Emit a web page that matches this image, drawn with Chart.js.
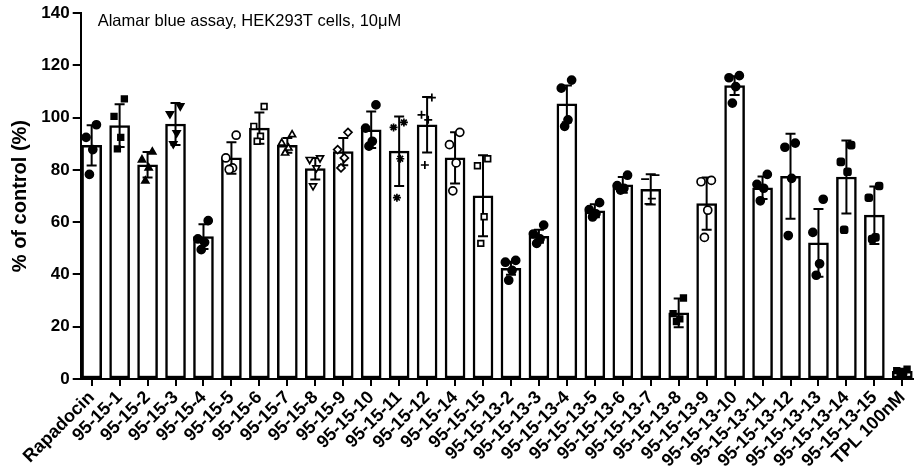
<!DOCTYPE html>
<html>
<head>
<meta charset="utf-8">
<title>Alamar blue assay</title>
<script src="https://cdn.jsdelivr.net/npm/chart.js@4.4.1/dist/chart.umd.min.js"></script>
<style>
  html, body { margin: 0; padding: 0; background: #fff; overflow: hidden; }
  #wrap { width: 922px; height: 467px; }
</style>
</head>
<body>
<div id="wrap"><canvas id="chart"></canvas></div>
<script>
// compounds on the x axis
const labels = [
  "Rapadocin", "95-15-1", "95-15-2", "95-15-3", "95-15-4", "95-15-5", "95-15-6",
  "95-15-7", "95-15-8", "95-15-9", "95-15-10", "95-15-11", "95-15-12", "95-15-14",
  "95-15-15", "95-15-13-2", "95-15-13-3", "95-15-13-4", "95-15-13-5", "95-15-13-6",
  "95-15-13-7", "95-15-13-8", "95-15-13-9", "95-15-13-10", "95-15-13-11",
  "95-15-13-12", "95-15-13-13", "95-15-13-14", "95-15-13-15", "TPL 100nM"
];

// bar heights (mean % of control) and SD
const means = [
  89.4, 97.0, 82.0, 97.6, 54.5, 84.6, 96.0, 89.4, 80.5, 87.0,
  95.4, 87.2, 97.3, 84.6, 70.1, 42.4, 54.6, 105.3, 64.4, 74.3,
  72.6, 25.3, 67.1, 112.3, 73.2, 77.6, 52.1, 77.3, 62.7, 2.9
];
const sds = [
  7.7, 8.2, 4.9, 8.0, 4.7, 6.0, 6.0, 2.8, 4.1, 5.2,
  7.0, 13.3, 10.6, 9.8, 15.5, 2.5, 2.5, 7.0, 2.5, 3.0,
  5.8, 5.5, 10.0, 3.6, 4.3, 16.3, 13.0, 14.0, 11.0, 1.0
];

// individual replicates
const replicates = [
  [97.3, 92.5, 87.8, 78.3],
  [107.2, 100.5, 92.5, 88.1],
  [86.9, 83.9, 80.8, 75.8],
  [104.5, 101.5, 94.2, 90.0],
  [60.6, 53.6, 52.3, 49.5],
  [93.3, 84.6, 80.8, 80.2],
  [104.3, 96.7, 92.9, 91.0],
  [93.5, 90.3, 88.4, 86.5],
  [84.6, 84.0, 80.8, 73.9],
  [94.4, 87.8, 84.6, 80.8],
  [104.9, 96.0, 91.0, 89.1],
  [98.2, 96.3, 84.3, 69.4],
  [107.7, 101.1, 99.2, 81.9],
  [94.4, 89.7, 82.7, 72.0],
  [84.3, 81.6, 62.1, 51.9],
  [45.4, 44.7, 41.6, 37.8],
  [58.9, 55.5, 53.6, 51.9],
  [114.4, 111.3, 99.2, 96.7],
  [67.5, 64.8, 63.2, 62.0],
  [78.0, 74.0, 73.0, 72.3],
  [78.0, 76.5, 69.0, 67.0],
  [31.0, 25.0, 23.0, 22.0],
  [76.0, 75.5, 64.6, 54.2],
  [116.1, 115.3, 111.9, 105.6],
  [78.3, 74.5, 73.0, 68.2],
  [90.3, 88.7, 76.8, 54.9],
  [68.8, 56.1, 44.1, 39.7],
  [89.5, 83.1, 79.3, 57.1],
  [73.9, 69.4, 54.2, 53.6],
  [3.8, 3.2, 2.6, 2.0]
];

const yTicks = [0, 20, 40, 60, 80, 100, 120, 140];
const note = "Alamar blue assay, HEK293T cells, 10\u03bcM";

// marker per group: [pointStyle, filled, rotation]
const markers = [
  ["circle", 1, 0], ["rect", 1, 0], ["triangle", 1, 0], ["triangle", 1, 180],
  ["circle", 1, 0], ["circle", 0, 0], ["rect", 0, 0], ["triangle", 0, 0],
  ["triangle", 0, 180], ["rectRot", 0, 0], ["circle", 1, 0], ["star", 0, 0],
  ["cross", 0, 0], ["circle", 0, 0], ["rect", 0, 0], ["circle", 1, 0],
  ["circle", 1, 0], ["circle", 1, 0], ["circle", 1, 0], ["circle", 1, 0],
  ["line", 0, 0], ["rect", 1, 0], ["circle", 0, 0], ["circle", 1, 0],
  ["circle", 1, 0], ["circle", 1, 0], ["circle", 1, 0], ["rectRounded", 1, 0],
  ["rectRounded", 1, 0], ["rect", 1, 0]
];
const jitter = [0.17, -0.2, 0.04, -0.08];

const pts = [], pStyle = [], pFill = [], pRot = [];
replicates.forEach((vals, i) => {
  vals.forEach((v, j) => {
    pts.push({ x: i + jitter[j], y: v });
    pStyle.push(markers[i][0]);
    pFill.push(markers[i][1] ? "#000" : "#fff");
    pRot.push(markers[i][2]);
  });
});

const FONT = "'Liberation Sans', Arial, sans-serif";

const errorBars = {
  id: "errorBars",
  afterDatasetDraw(chart, args) {
    if (args.index !== 0) return;
    const ctx = chart.ctx;
    const y = chart.scales.y;
    ctx.save();
    ctx.strokeStyle = "#000";
    ctx.lineWidth = 2;
    chart.getDatasetMeta(0).data.forEach((bar, i) => {
      const top = y.getPixelForValue(means[i] + sds[i]);
      const bot = y.getPixelForValue(Math.max(0, means[i] - sds[i]));
      ctx.beginPath();
      ctx.moveTo(bar.x, top); ctx.lineTo(bar.x, bot);
      ctx.moveTo(bar.x - 5, top); ctx.lineTo(bar.x + 5, top);
      ctx.moveTo(bar.x - 5, bot); ctx.lineTo(bar.x + 5, bot);
      ctx.stroke();
    });
    ctx.restore();
  },
  afterDraw(chart) {
    const ctx = chart.ctx;
    const a = chart.chartArea;
    ctx.save();
    ctx.fillStyle = "#000";
    ctx.font = "16.5px " + FONT;
    ctx.textBaseline = "top";
    ctx.fillText(note, a.left + 17, a.top + 0);
    ctx.restore();
  }
};

new Chart(document.getElementById("chart"), {
  type: "bar",
  data: {
    datasets: [{
      type: "bar",
      data: means.map((m, i) => ({ x: i, y: m })),
      backgroundColor: "#fff",
      borderColor: "#000",
      borderWidth: 2.5,
      borderSkipped: false,
      barThickness: 20,
      order: 2
    }, {
      type: "scatter",
      data: pts,
      pointStyle: pStyle,
      backgroundColor: pFill,
      borderColor: "#000",
      borderWidth: 1.7,
      rotation: pRot,
      pointRadius: 4,
      order: 1
    }]
  },
  options: {
    responsive: true,
    maintainAspectRatio: false,
    animation: false,
    layout: { padding: { top: 13, right: 2, left: 0, bottom: 0 } },
    plugins: { legend: { display: false }, tooltip: { enabled: false } },
    scales: {
      x: {
        type: "linear",
        min: -0.392,
        max: 29.5,
        offset: false,
        grid: { offset: false, drawOnChartArea: false, drawTicks: true, tickLength: 7, color: "#000", lineWidth: 2 },
        border: { display: true, color: "#000", width: 2 },
        afterBuildTicks: s => { s.ticks = labels.map((_, i) => ({ value: i })); },
        afterFit: s => { s.height = 88; },
        ticks: {
          autoSkip: false,
          includeBounds: false,
          minRotation: 45,
          maxRotation: 45,
          padding: 1,
          color: "#000",
          font: { family: FONT, size: 18, weight: "bold" },
          callback: v => labels[v]
        }
      },
      y: {
        min: 0,
        max: 140,
        afterBuildTicks: s => { s.ticks = yTicks.map(v => ({ value: v })); },
        afterFit: s => { s.width = 80.7; },
        grid: { drawOnChartArea: false, drawTicks: true, tickLength: 8, color: "#000", lineWidth: 2 },
        border: { display: true, color: "#000", width: 2 },
        ticks: {
          padding: 3,
          color: "#000",
          font: { family: FONT, size: 17, weight: "bold" }
        },
        title: {
          display: true,
          text: "% of control (%)",
          color: "#000",
          padding: { top: 8, bottom: 0 },
          font: { family: FONT, size: 20, weight: "bold" }
        }
      }
    }
  },
  plugins: [errorBars]
});
</script>
</body>
</html>
